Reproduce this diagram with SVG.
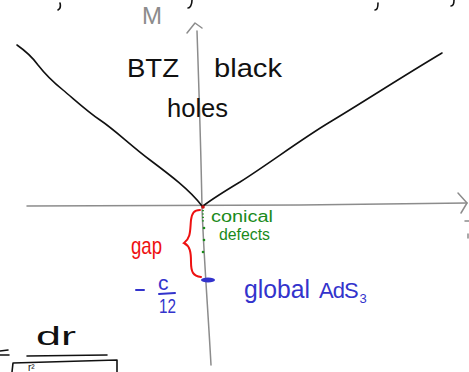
<svg xmlns="http://www.w3.org/2000/svg" width="469" height="372" viewBox="0 0 469 372">
<style>
.ax{fill:none;stroke:#8c8c8c;stroke-width:1.5;stroke-linecap:round;stroke-linejoin:round}
.ink{fill:none;stroke:#111;stroke-width:1.6;stroke-linecap:round;stroke-linejoin:round}
.t{font-family:"Liberation Sans","DejaVu Sans",sans-serif}
.k{fill:#111}
.g{fill:#1a8a1a}
.b{fill:#3333cc}
.r{fill:#ee1111}
</style>
<rect width="469" height="372" fill="#fff"/>
<g id="connectors">
  <path id="vaxis" class="ax" d="M197,31 C199,90 201,150 202,208 C204,260 208,310 211,365"/>
  <path class="ax" d="M187,33 L195,23 L202,28"/>
  <path id="haxis" class="ax" d="M27,206 L300,205 L467,203"/>
  <path class="ax" d="M458,193 L467,203 L461,213"/>
  <path class="ax" d="M465,221 L469,221 M468,234 L468,238"/>
</g>
<g id="top-fragments">
  <path class="ink" d="M60,3 C61,7 60,9 58,10 M192,0 C192,5 190,8 188,8 M378,3 C378,7 377,10 375,10 M454,0 C454,4 453,6 451,6"/>
</g>
<g id="label-M"><text class="t" x="142" y="24" font-size="24" fill="#8c8c8c">M</text></g>
<g id="btz-left-curve">
  <path class="ink" d="M17,45 C27,52 33,58 38,65 C45,74 53,82 63,90 C75,100 88,112 100,120 C115,130 130,145 150,160 C170,175 190,190 202,206"/>
</g>
<g id="btz-right-curve">
  <path class="ink" d="M203,206 C215,197 225,191 240,182 C270,163 300,140 330,122 C365,101 400,78 442,53"/>
</g>
<g id="label-btz">
  <text class="t k" x="127" y="77" font-size="25" textLength="52" lengthAdjust="spacingAndGlyphs">BTZ</text>
  <text class="t k" x="214" y="77" font-size="26" textLength="68" lengthAdjust="spacingAndGlyphs">black</text>
  <text class="t k" x="167" y="117" font-size="25" textLength="61" lengthAdjust="spacingAndGlyphs">holes</text>
</g>
<g id="origin">
  <circle cx="203" cy="207" r="1.8" fill="#cc1111"/>
</g>
<g id="conical-defects">
  <path d="M203,210 L203,222" stroke="#1a8a1a" stroke-width="1.8" stroke-dasharray="1.2,2.2" fill="none"/>
  <circle cx="204" cy="228" r="1.3" fill="#1a8a1a"/>
  <circle cx="204" cy="240" r="1.3" fill="#1a8a1a"/>
  <circle cx="203" cy="252" r="1.3" fill="#1a8a1a"/>
  <text class="t g" x="211" y="222" font-size="16" textLength="62" lengthAdjust="spacingAndGlyphs">conical</text>
  <text class="t g" x="219" y="240" font-size="16" textLength="51" lengthAdjust="spacingAndGlyphs">defects</text>
</g>
<g id="gap">
  <path d="M200,210 C194,210 192,213 191,220 C190,230 191,238 184,243 C190,246 191,252 191,262 C191,272 193,276 201,277" fill="none" stroke="#ee1111" stroke-width="2" stroke-linecap="round"/>
  <text class="t r" x="131" y="254" font-size="24" textLength="31" lengthAdjust="spacingAndGlyphs">gap</text>
</g>
<g id="global-ads3">
  <ellipse cx="208" cy="280" rx="7" ry="2.6" fill="#3333cc"/>
  <text class="t b" x="244" y="298" font-size="26" textLength="66" lengthAdjust="spacingAndGlyphs">global</text>
  <text class="t b" x="319" y="298" font-size="22" letter-spacing="-1">AdS<tspan font-size="13" dy="5" dx="2">3</tspan></text>
</g>
<g id="minus-c-12">
  <path d="M136,290 L144,290 M159,294 L175,293" stroke="#3333cc" stroke-width="2" stroke-linecap="round"/>
  <text class="t b" x="158" y="290" font-size="21">c</text>
  <text class="t b" x="159" y="313" font-size="20" textLength="17" lengthAdjust="spacingAndGlyphs">12</text>
</g>
<g id="formula">
  <path class="ink" d="M0,351 L8,350 M0,355 L9,355 M27,356 L107,355"/>
  <text class="t k" x="36" y="345" font-size="26" textLength="40" lengthAdjust="spacingAndGlyphs">dr</text>
  <path class="ink" d="M12,372 L13,363 L117,360 L117,372"/>
  <text class="t k" x="28" y="371" font-size="10">r²</text>
</g>
</svg>
